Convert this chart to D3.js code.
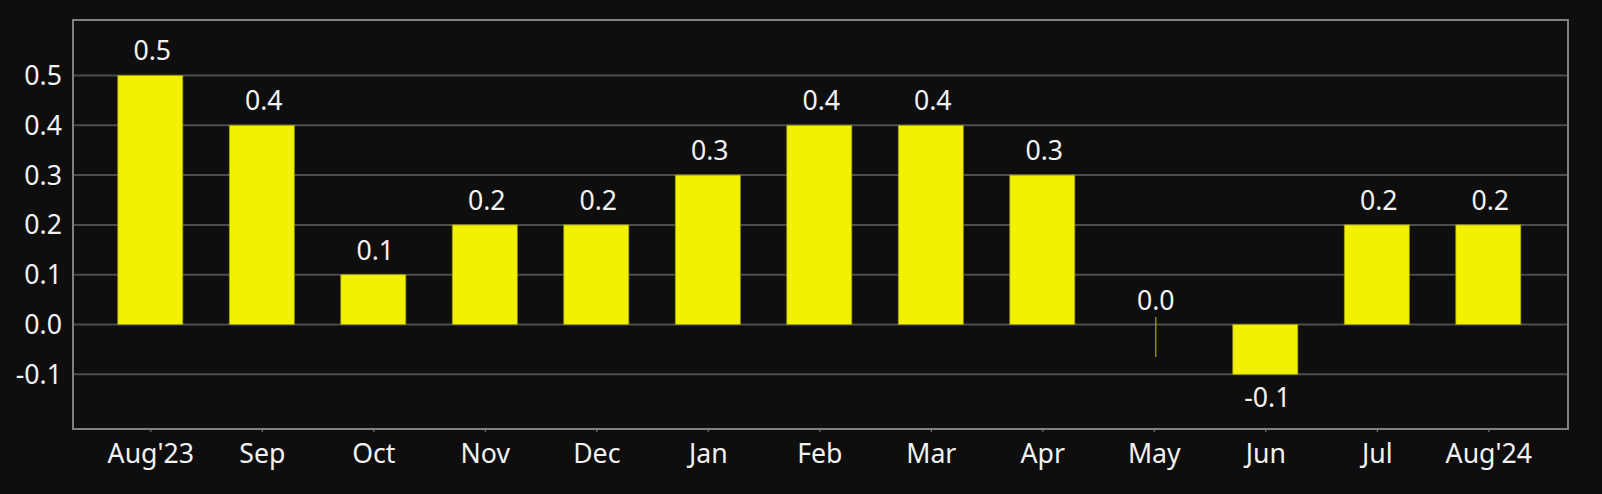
<!DOCTYPE html>
<html>
<head>
<meta charset="utf-8">
<script src="https://cdn.jsdelivr.net/npm/d3@7"></script>
<style>
  html, body { margin: 0; padding: 0; background: #0e0e0e; }
  svg { display: block; }
</style>
</head>
<body>
<svg id="chart" width="1602" height="494"></svg>
<script>
const categories = ["Aug'23", "Sep", "Oct", "Nov", "Dec", "Jan", "Feb", "Mar", "Apr", "May", "Jun", "Jul", "Aug'24"];
const values = [0.5, 0.4, 0.1, 0.2, 0.2, 0.3, 0.4, 0.4, 0.3, 0.0, -0.1, 0.2, 0.2];
const yTicks = [-0.1, 0.0, 0.1, 0.2, 0.3, 0.4, 0.5];

const W = 1602, H = 494;
const frame = { left: 73, top: 20, right: 1568, bottom: 429 };
const fontFamily = "'Noto Sans', 'Open Sans', sans-serif";
const fontSize = 26.67;
const textColor = "#f2f2f2";

const svg = d3.select("#chart");
svg.append("rect").attr("width", W).attr("height", H).attr("fill", "#0e0e0e");

const y = d3.scaleLinear().domain([-0.2098, 0.6114]).range([frame.bottom, frame.top]);
const x = d3.scalePoint().domain(categories).range([150.3, 1488.3]);
const barW = 65;

// gridlines
svg.append("g").selectAll("line").data(yTicks).join("line")
  .attr("x1", frame.left).attr("x2", frame.right)
  .attr("y1", d => y(d)).attr("y2", d => y(d))
  .attr("stroke", "#4d4d4d").attr("stroke-width", 2);

// bars
const bars = svg.append("g");
bars.selectAll("rect").data(values.map((v, i) => ({ v, c: categories[i] })).filter(d => d.v !== 0)).join("rect")
  .attr("x", d => x(d.c) - barW / 2)
  .attr("width", barW)
  .attr("y", d => y(Math.max(0, d.v)))
  .attr("height", d => Math.abs(y(d.v) - y(0)))
  .attr("fill", "#f2f200")
  .attr("stroke", "#9a9a10")
  .attr("stroke-width", 0.8);

// zero-value bar marker (thin line)
bars.selectAll("line").data(values.map((v, i) => ({ v, c: categories[i] })).filter(d => d.v === 0)).join("line")
  .attr("x1", d => x(d.c) + 2).attr("x2", d => x(d.c) + 2)
  .attr("y1", y(0.015)).attr("y2", y(-0.065))
  .attr("stroke", "#a8a800").attr("stroke-width", 1.2);

// frame
svg.append("rect")
  .attr("x", frame.left).attr("y", frame.top)
  .attr("width", frame.right - frame.left).attr("height", frame.bottom - frame.top)
  .attr("fill", "none").attr("stroke", "#808080").attr("stroke-width", 2);

// value labels
svg.append("g").selectAll("text").data(values.map((v, i) => ({ v, c: categories[i] }))).join("text")
  .attr("x", d => x(d.c) + 2)
  .attr("y", d => d.v < 0 ? y(d.v) + 33 : y(d.v) - 15)
  .attr("text-anchor", "middle")
  .attr("font-family", fontFamily).attr("font-size", fontSize)
  .attr("fill", textColor)
  .text(d => d.v.toFixed(1));

// y axis labels
svg.append("g").selectAll("text").data(yTicks).join("text")
  .attr("x", 62)
  .attr("y", d => y(d))
  .attr("dy", "0.36em")
  .attr("text-anchor", "end")
  .attr("font-family", fontFamily).attr("font-size", fontSize)
  .attr("fill", textColor)
  .text(d => d.toFixed(1));

// x axis
const xAxis = svg.append("g").attr("transform", `translate(0,${frame.bottom + 1})`)
  .call(d3.axisBottom(x).tickSize(2).tickPadding(12));
xAxis.select(".domain").remove();
xAxis.selectAll(".tick line").attr("stroke", "#777").attr("stroke-width", 1.2);
xAxis.selectAll(".tick text")
  .attr("font-family", fontFamily).attr("font-size", fontSize)
  .attr("fill", textColor);
</script>
</body>
</html>
